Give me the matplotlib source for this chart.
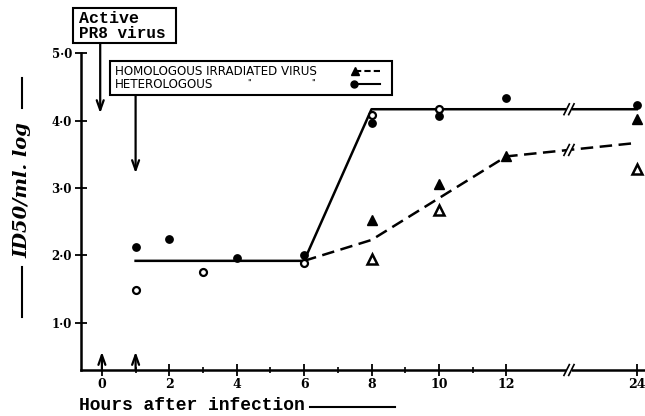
import numpy as np
import matplotlib.pyplot as plt
from matplotlib.patches import Rectangle
from matplotlib.lines import Line2D

# values (log ID50/ml)
het_hours = [1, 2, 4, 6, 8, 10, 12, 24]
het_filled = [2.13, 2.25, 1.96, 2.01, 3.96, 4.07, 4.33, 4.24]
het_open_hours = [1, 3, 6, 8, 10]
het_open = [1.49, 1.75, 1.89, 4.09, 4.17]
hom_hours = [8, 10, 12, 24]
hom_filled = [2.53, 3.06, 3.47, 4.03]
hom_open_hours = [8, 10, 24]
hom_open = [1.95, 2.67, 3.29]

het_line_hours = [1, 6, 8, 24]
het_line = [1.92, 1.92, 4.17, 4.17]
hom_line_hours = [6, 8, 12, 24]
hom_line = [1.92, 2.23, 3.47, 3.67]

xtick_hours = [0, 2, 4, 6, 8, 10, 12, 24]
xminor_hours = [1, 3, 5, 7, 9, 11]
yticks = [1.0, 2.0, 3.0, 4.0, 5.0]

W, H = 645, 416
SERIF = 'DejaVu Serif'
MONO = 'Liberation Mono'


def xpos(h):
    # axis is broken after 12 h, the 12-24 h part is squeezed
    h = np.asarray(h, dtype=float)
    return np.where(h <= 12, h, 12 + (h - 12) / 3.1)


def fp(x, y):
    # picture pixels (top-left origin) -> figure fraction
    return x / W, 1 - y / H


fig = plt.figure(figsize=(W / 100, H / 100), dpi=100)
ax = fig.add_axes([81 / W, (H - 370) / H, (644.5 - 81) / W, (370 - 53.3) / H])
ax.set_xlim(-0.62, 16.1)
ax.set_ylim(0.3, 5.0)

for s in ['top', 'right']:
    ax.spines[s].set_visible(False)
for s in ['left', 'bottom']:
    ax.spines[s].set_linewidth(1.8)

ax.set_xticks(xpos(xtick_hours))
ax.set_xticklabels([str(h) for h in xtick_hours], fontsize=9, family=SERIF,
                   fontweight='bold')
ax.set_xticks(xpos(xminor_hours), minor=True)
ax.set_yticks(yticks)
ax.set_yticklabels([f'{v:.1f}'.replace('.', '\u00b7') for v in yticks],
                   fontsize=8.5, family=SERIF, fontweight='bold')
ax.tick_params(axis='x', which='major', direction='inout', length=9, width=1.3, pad=1)
ax.tick_params(axis='x', which='minor', direction='inout', length=4, width=1.2)
ax.tick_params(axis='y', direction='inout', length=9, width=1.3, pad=2)

# fitted lines
ax.plot(xpos(het_line_hours), het_line, color='k', lw=1.8, zorder=3)
ax.plot(xpos(hom_line_hours), hom_line, color='k', lw=1.8, ls=(0, (5, 2.6)), zorder=3)

# points
ax.plot(xpos(het_hours), het_filled, 'o', color='k', ms=5.3, zorder=6)
ax.plot(xpos(het_open_hours), het_open, 'o', mfc='white', mec='k', mew=1.6, ms=5, zorder=6)
ax.plot(xpos(hom_hours), hom_filled, '^', color='k', ms=7, zorder=6)
ax.plot(xpos(hom_open_hours), hom_open, '^', mfc='white', mec='k', mew=1.8, ms=6.5, zorder=6)


def draw_break(x, y):
    ax.plot([x - 0.09, x + 0.09], [y, y], color='white', lw=4,
            solid_capstyle='butt', zorder=4, clip_on=False)
    for dx in (-0.06, 0.08):
        ax.plot([x + dx - 0.08, x + dx + 0.08], [y - 0.08, y + 0.08],
                color='k', lw=1.2, zorder=5, clip_on=False)


brk = 13.85
draw_break(brk, 0.3)
draw_break(brk, np.interp(brk, xpos(het_line_hours), het_line))
draw_break(brk, np.interp(brk, xpos(hom_line_hours), hom_line))

arrow = dict(arrowstyle='->,head_length=0.7,head_width=0.25', color='k', lw=1.6,
             shrinkA=0, shrinkB=0)
# arrows at time of infection / time of irradiated virus
ax.annotate('', xy=(0, 0.57), xytext=(0, 0.3), arrowprops=arrow, annotation_clip=False)
ax.annotate('', xy=(1, 0.57), xytext=(1, 0.3), arrowprops=arrow, annotation_clip=False)
ax.annotate('', xy=(-0.05, 4.11), xytext=(-0.05, 5.15), arrowprops=arrow, annotation_clip=False)
ax.annotate('', xy=(1, 3.22), xytext=(1, 4.38), arrowprops=arrow, annotation_clip=False)

# "Active PR8 virus" box
x0, y0 = fp(73, 43)
x1, y1 = fp(176, 8)
fig.add_artist(Rectangle((x0, y0), x1 - x0, y1 - y0, transform=fig.transFigure,
                         fill=True, fc='white', ec='k', lw=1.5))
fig.text(*fp(79, 18.5), 'Active', fontsize=12, family=MONO, fontweight='bold', va='center')
fig.text(*fp(79, 34), 'PR8 virus', fontsize=11.5, family=MONO, fontweight='bold', va='center')

# legend box
x0, y0 = fp(110, 95)
x1, y1 = fp(392, 61)
fig.add_artist(Rectangle((x0, y0), x1 - x0, y1 - y0, transform=fig.transFigure,
                         fill=True, fc='white', ec='k', lw=1.5))
fig.text(*fp(115, 71.5), 'HOMOLOGOUS IRRADIATED VIRUS', fontsize=8.6, va='center')
fig.text(*fp(115, 84.5), 'HETEROLOGOUS', fontsize=8.6, va='center')
fig.text(*fp(247, 83), '"', fontsize=6, va='center')
fig.text(*fp(311, 83), '"', fontsize=6, va='center')
fig.add_artist(Line2D([fp(355, 0)[0], fp(380, 0)[0]], [fp(0, 71)[1]] * 2, color='k', lw=1.5,
                      ls=(0, (3, 1.5)), marker='^', ms=6, markevery=[0],
                      transform=fig.transFigure))
fig.add_artist(Line2D([fp(354, 0)[0], fp(380, 0)[0]], [fp(0, 84)[1]] * 2, color='k', lw=1.5,
                      marker='o', ms=5, markevery=[0], transform=fig.transFigure))

# y label with its side rules
fig.text(*fp(22, 190), 'ID50/ml. log', rotation=90, fontsize=14, family=SERIF,
         fontstyle='italic', fontweight='bold', ha='center', va='center')
fig.add_artist(Line2D([fp(22, 0)[0]] * 2, [fp(0, 78)[1], fp(0, 108)[1]], color='k', lw=1.5,
                      transform=fig.transFigure))
fig.add_artist(Line2D([fp(22, 0)[0]] * 2, [fp(0, 267)[1], fp(0, 317)[1]], color='k', lw=1.5,
                      transform=fig.transFigure))

# x label with its rule
fig.text(*fp(79, 406), 'Hours after infection', fontsize=13, family=MONO,
         fontweight='bold', va='center')
fig.add_artist(Line2D([fp(310, 0)[0], fp(395, 0)[0]], [fp(0, 407)[1]] * 2, color='k', lw=1.5,
                      transform=fig.transFigure))

fig.savefig('out.png', dpi=100)
